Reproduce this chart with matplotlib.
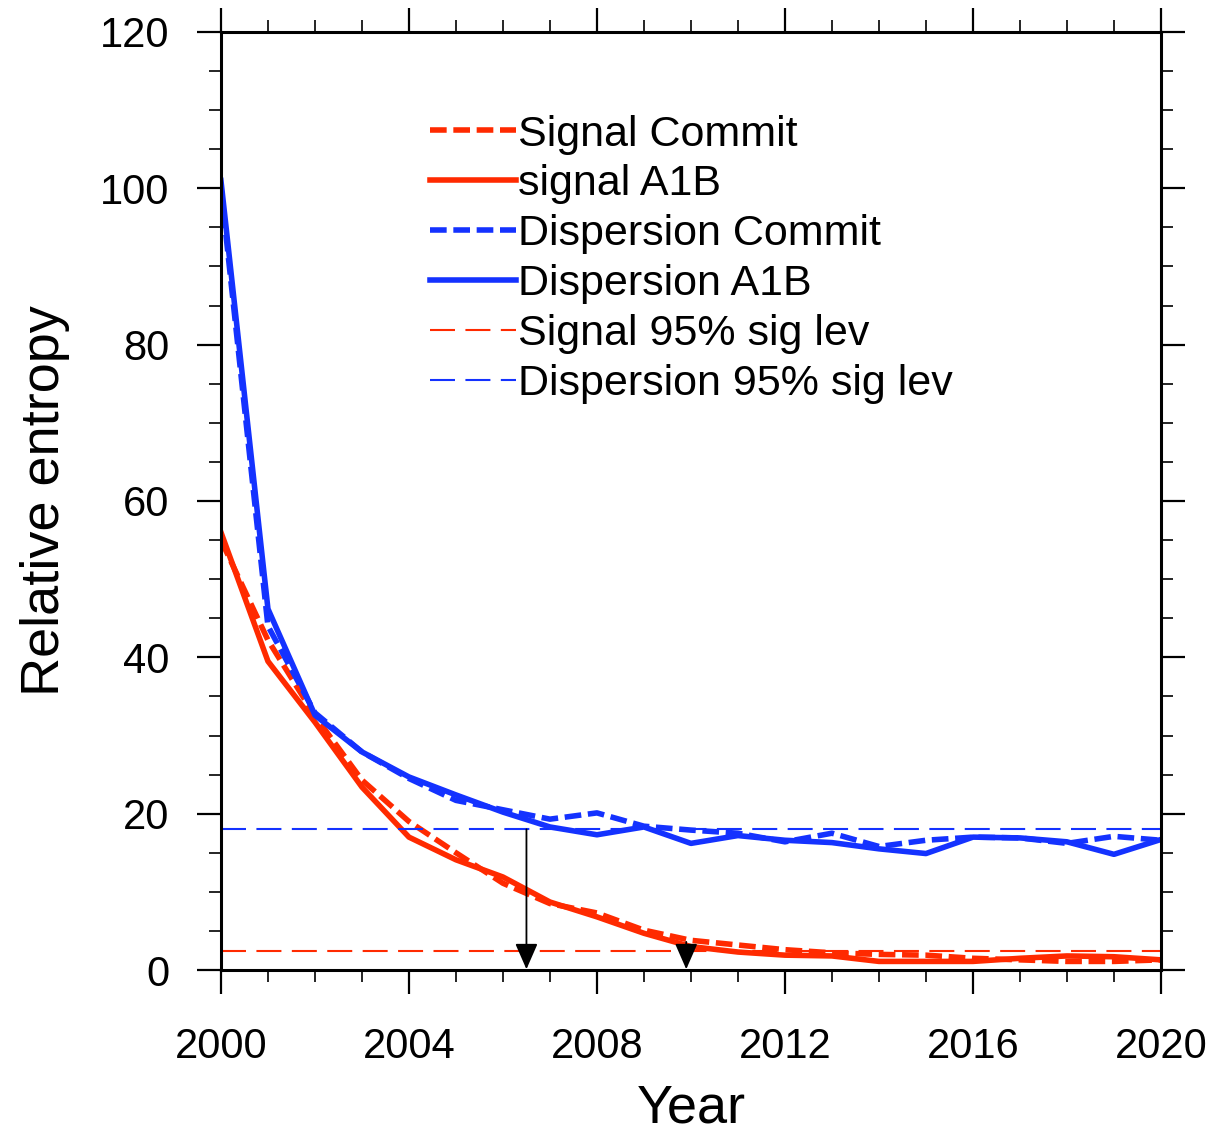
import numpy as np
import matplotlib.pyplot as plt
from matplotlib.ticker import MultipleLocator

plt.rcParams['font.family'] = ['Liberation Sans', 'DejaVu Sans']

years = np.arange(2000, 2021)

# relative entropy per year
signal_commit = [55.0, 42.2, 32.5, 24.3, 19.0, 15.0, 11.1, 8.5, 7.3, 5.1, 3.8,
                 3.2, 2.6, 2.2, 2.0, 1.9, 1.5, 1.3, 1.1, 1.1, 1.3]
signal_a1b = [56.0, 39.5, 31.7, 23.4, 17.0, 14.1, 11.9, 8.7, 6.8, 4.7, 3.0,
              2.3, 1.9, 1.8, 1.1, 1.1, 1.1, 1.5, 1.8, 1.7, 1.3]
disp_commit = [100.0, 44.0, 32.9, 27.9, 24.5, 21.7, 20.5, 19.3, 20.1, 18.4, 17.9,
               17.5, 16.4, 17.5, 15.8, 16.6, 17.0, 16.9, 16.2, 17.1, 16.6]
disp_a1b = [101.0, 46.2, 32.6, 27.9, 24.7, 22.4, 20.2, 18.3, 17.3, 18.3, 16.2,
            17.2, 16.6, 16.3, 15.5, 14.9, 17.0, 16.9, 16.4, 14.8, 16.7]

signal_sig = 2.4
disp_sig = 18.0

# years where each curve drops below its significance level
cross_disp = (2006.5, disp_sig)
cross_signal = (2009.9, 3.6)

red = '#ff2a00'
blue = '#1432ff'

fig = plt.figure(figsize=(12.14, 11.42), dpi=100)
ax = fig.add_axes([0.182, 0.1506, 0.7743, 0.8214])

ax.plot(years, signal_commit, color=red, lw=4, ls=(0, (3, 1.2)), label='Signal Commit')
ax.plot(years, signal_a1b, color=red, lw=4, label='signal A1B')
ax.plot(years, disp_commit, color=blue, lw=4, ls=(0, (3, 1.2)), label='Dispersion Commit')
ax.plot(years, disp_a1b, color=blue, lw=4, label='Dispersion A1B')
ax.axhline(signal_sig, color=red, lw=1.5, ls=(0, (12, 5)), label='Signal 95% sig lev')
ax.axhline(disp_sig, color=blue, lw=1.5, ls=(0, (12, 5)), label='Dispersion 95% sig lev')

for xa, ya in [cross_disp, cross_signal]:
    ax.annotate('', xy=(xa, 0.1), xytext=(xa, ya),
                arrowprops=dict(arrowstyle='-|>,head_length=1.6,head_width=0.7',
                                color='black', lw=1.3, shrinkA=0, shrinkB=0))

ax.set_xlim(2000, 2020)
ax.set_ylim(0, 120)
ax.xaxis.set_major_locator(MultipleLocator(4))
ax.xaxis.set_minor_locator(MultipleLocator(1))
ax.yaxis.set_major_locator(MultipleLocator(20))
ax.yaxis.set_minor_locator(MultipleLocator(5))
ax.tick_params(which='both', direction='out', top=True, right=True, labelsize=30)
ax.tick_params(which='major', length=17, width=1.6)
ax.tick_params(which='minor', length=8.5, width=1.2)
ax.tick_params(axis='x', which='major', pad=24)
ax.tick_params(axis='y', which='major', pad=20)
for sp in ax.spines.values():
    sp.set_linewidth(2.2)

ax.set_xlabel('Year', fontsize=39, labelpad=12)
ax.set_ylabel('Relative entropy', fontsize=39, labelpad=22)

ax.legend(loc='upper left', bbox_to_anchor=(0.222, 0.912), frameon=False,
          fontsize=31, handlelength=2.0, handletextpad=0.05, labelspacing=0.23,
          borderpad=0, borderaxespad=0)

fig.savefig('out.png', dpi=100)
